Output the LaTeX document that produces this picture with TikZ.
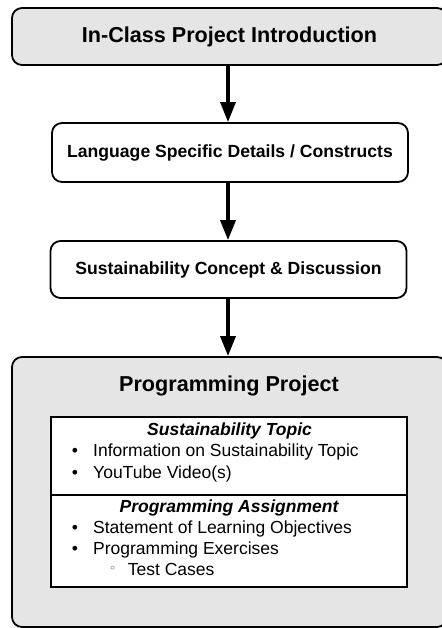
\documentclass[tikz,border=0pt]{standalone}
\usepackage{fontspec}
\setmainfont{Liberation Sans}
\newfontfamily\dvsfont{DejaVu Sans}
\usetikzlibrary{arrows.meta}
\definecolor{boxgray}{RGB}{229,229,229}
\begin{document}
\begin{tikzpicture}[x=1pt,y=-1pt,
  stage/.style={draw=black, line width=1.8pt, rounded corners=10pt, inner sep=0pt,
    font=\bfseries\fontsize{17.6}{20}\selectfont},
  bigstage/.style={stage, fill=boxgray, font=\bfseries\fontsize{21.6}{24}\selectfont},
  bigtitle/.style={anchor=base, inner sep=0pt, font=\bfseries\fontsize{21.6}{24}\selectfont},
  subhead/.style={anchor=base, inner sep=0pt, font=\bfseries\itshape\fontsize{17.5}{20}\selectfont},
  item/.style={anchor=base west, inner sep=0pt, font=\fontsize{17.5}{20}\selectfont},
  bul/.style={anchor=base, inner sep=0pt, font=\fontsize{17.5}{20}\selectfont},
  subbul/.style={anchor=base, inner sep=0pt, text=black!80, font=\dvsfont\fontsize{12}{13}\selectfont},
  listbox/.style={draw=black, line width=2pt, fill=white, inner sep=0pt},
  arr/.style={line width=3.5pt, -{Triangle[length=20pt,width=15pt]}}
]
\useasboundingbox (0,0) rectangle (441,628);

% stage boxes
\node[bigstage, minimum width=435pt, minimum height=57pt] (b1) at (229.5,36.5) {In-Class Project Introduction};
\node[stage, minimum width=356pt, minimum height=59pt] (b2) at (230,152.5) {Language Specific Details / Constructs};
\node[stage, minimum width=356pt, minimum height=57pt] (b3) at (228.5,269.5) {Sustainability Concept \& Discussion};
\node[bigstage, minimum width=435pt, minimum height=270pt] (b4) at (229.5,492) {};
\node[bigtitle] (pp) at (229,391.7) {Programming Project};

% inner list box
\node[listbox, minimum width=356pt, minimum height=170pt] (lb) at (229,502) {};
\coordinate (dv) at (0,495);
\draw[line width=2pt] (lb.west |- dv) -- (lb.east |- dv);

\node[subhead] (st) at (229.5,435.7) {Sustainability Topic};
\node[bul] (s1b) at (75,456.7) {•};
\node[item] (s1) at (93,456.7) {Information on Sustainability Topic};
\node[bul] (s2b) at (75,478) {•};
\node[item] (s2) at (93,478) {YouTube Video(s)};

\node[subhead] (pa) at (229,512) {Programming Assignment};
\node[bul] (p1b) at (75,533) {•};
\node[item] (p1) at (93,533) {Statement of Learning Objectives};
\node[bul] (p2b) at (75,554) {•};
\node[item] (p2) at (93,554) {Programming Exercises};
\node[subbul] (p3b) at (112.7,572.5) {◦};
\node[item] (p3) at (127.7,575) {Test Cases};

% connectors
\coordinate (ax) at (228,0);
\draw[arr] (b1.south -| ax) -- (b2.north -| ax);
\draw[arr] (b2.south -| ax) -- (b3.north -| ax);
\draw[arr] (b3.south -| ax) -- (b4.north -| ax);
\end{tikzpicture}
\end{document}
